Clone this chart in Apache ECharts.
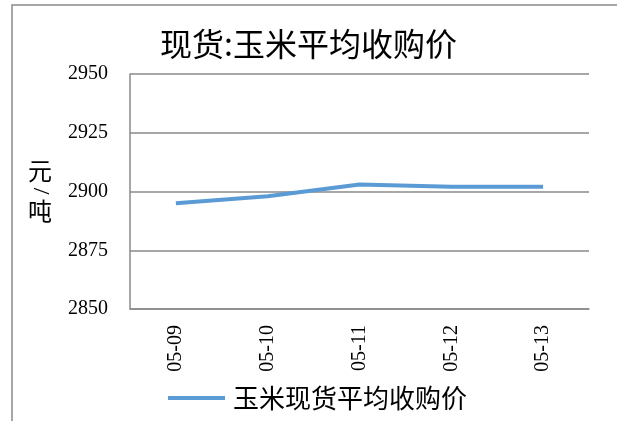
<!DOCTYPE html>
<html><head><meta charset="utf-8">
<script src="https://cdn.jsdelivr.net/npm/echarts@6/dist/echarts.min.js"></script>
<style>html,body{margin:0;padding:0;background:#fff}#c{width:617px;height:421px}</style>
</head><body><div id="c"></div>
<script>
const titleText = '现货:玉米平均收购价';
const unitLabel = ['元', '/', '吨'];
const categories = ['05-09', '05-10', '05-11', '05-12', '05-13'];
const seriesName = '玉米现货平均收购价';
const values = [2895, 2898, 2903, 2902, 2902];
const yMin = 2850, yMax = 2950, yStep = 25;

const chart = echarts.init(document.getElementById('c'), null, {renderer: 'canvas'});
const cjk = '"Noto Sans CJK SC", sans-serif';
const serif = '"Liberation Serif", "DejaVu Serif", serif';
chart.setOption({
  animation: false,
  backgroundColor: '#fff',
  title: {
    text: titleText, left: 'center', top: 23,
    textStyle: {fontFamily: cjk, fontSize: 32, fontWeight: 'normal', color: '#000'}
  },
  grid: {left: 130, right: 28, top: 74, bottom: 112},
  legend: {
    left: 163, top: 380,
    itemWidth: 57, itemHeight: 4, icon: 'rect',
    textStyle: {fontFamily: cjk, fontSize: 26, color: '#000', padding: [0, 0, 0, 3]},
    data: [seriesName]
  },
  xAxis: {
    type: 'category', data: categories, boundaryGap: true,
    axisLine: {lineStyle: {color: '#8a8a8a', width: 1.5}},
    axisTick: {show: false},
    axisLabel: {rotate: 90, margin: 16, fontFamily: serif, fontSize: 20, color: '#000'}
  },
  yAxis: {
    type: 'value', min: yMin, max: yMax, interval: yStep,
    axisLine: {show: true, lineStyle: {color: '#8a8a8a', width: 1.5}},
    axisTick: {show: false},
    splitLine: {lineStyle: {color: '#8a8a8a', width: 1.5}},
    axisLabel: {margin: 22, fontFamily: serif, fontSize: 20, color: '#000', formatter: v => String(v)}
  },
  graphic: [
    {type: 'rect', z: 0, shape: {x: 12, y: 5, width: 640, height: 500}, style: {fill: 'none', stroke: '#8a8a8a', lineWidth: 1.5}, silent: true},
    {type: 'group', x: 40, y: 171, children: [
      {type: 'text', style: {text: unitLabel[0], x: 0, y: 0, fontFamily: cjk, fontSize: 24, fill: '#000', align: 'center', verticalAlign: 'middle'}}
    ]},
    {type: 'group', x: 40, y: 191, rotation: -Math.PI / 2, children: [
      {type: 'text', style: {text: unitLabel[1], x: 0, y: 0, fontFamily: serif, fontSize: 24, fill: '#000', align: 'center', verticalAlign: 'middle'}}
    ]},
    {type: 'group', x: 40, y: 211, children: [
      {type: 'text', style: {text: unitLabel[2], x: 0, y: 0, fontFamily: cjk, fontSize: 24, fill: '#000', align: 'center', verticalAlign: 'middle'}}
    ]}
  ],
  series: [{
    name: seriesName, type: 'line', data: values,
    symbol: 'none', smooth: false,
    lineStyle: {color: '#5B9BD5', width: 4},
    itemStyle: {color: '#5B9BD5'}
  }]
});
</script></body></html>
